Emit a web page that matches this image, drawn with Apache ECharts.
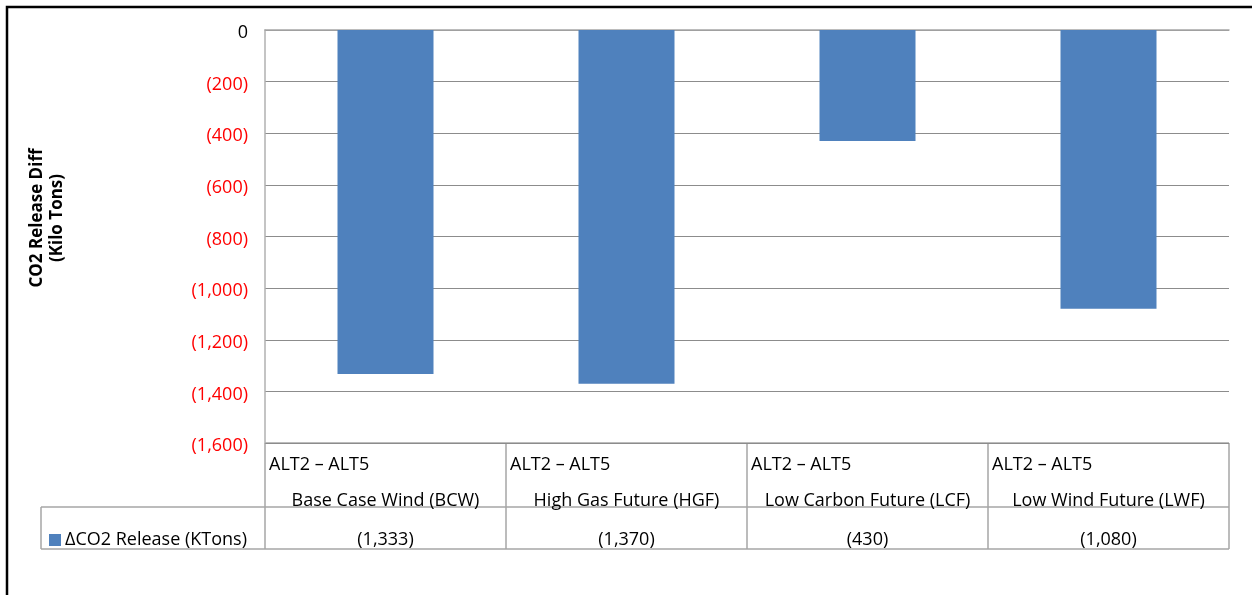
<!DOCTYPE html>
<html>
<head>
<meta charset="utf-8">
<script src="https://cdn.jsdelivr.net/npm/echarts@6/dist/echarts.min.js"></script>
<style>
  html, body { margin: 0; padding: 0; background: #fff; }
  #chart { width: 1252px; height: 595px; }
</style>
</head>
<body>
<div id="chart"></div>
<script>
// data
const categories = ["Base Case Wind (BCW)", "High Gas Future (HGF)", "Low Carbon Future (LCF)", "Low Wind Future (LWF)"];
const comparison = "ALT2 \u2013 ALT5";
const co2Diff = [-1333, -1370, -430, -1080];
const seriesName = "\u0394CO2 Release (KTons)";
const axisTitle = ["CO2 Release Diff", "(Kilo Tons)"];

const FONT = "'Open Sans', sans-serif";
const FS = 18;
const GRID = { left: 265, top: 30, width: 964, height: 413 };
const ROW1 = 64, ROW2 = 42, LEGEND_LEFT = 41;
const tableColor = "#a6a6a6";

// 1234 -> "(1,234)"
function fmt(v) {
  if (v === 0) return "0";
  const s = Math.abs(v).toLocaleString("en-US");
  return v < 0 ? "(" + s + ")" : s;
}

const chart = echarts.init(document.getElementById("chart"));

// table lines (data table below the plot)
const x0 = GRID.left, x1 = GRID.left + GRID.width;
const yTop = GRID.top + GRID.height, yMid = yTop + ROW1, yBot = yMid + ROW2;
const cellW = GRID.width / categories.length;
const lines = [];
const addLine = (ax, ay, bx, by) => lines.push({
  type: "line", shape: { x1: ax, y1: ay, x2: bx, y2: by },
  style: { stroke: tableColor, lineWidth: 1.5 }, silent: true
});
addLine(x0, yTop, x1, yTop);
addLine(LEGEND_LEFT, yMid, x1, yMid);
addLine(LEGEND_LEFT, yBot, x1, yBot);
addLine(LEGEND_LEFT, yMid, LEGEND_LEFT, yBot);
for (let i = 0; i <= categories.length; i++) {
  addLine(x0 + i * cellW, yTop, x0 + i * cellW, yBot);
}

const option = {
  backgroundColor: "#fff",
  animation: false,
  textStyle: { fontFamily: FONT },
  grid: { left: GRID.left, top: GRID.top, width: GRID.width, height: GRID.height },
  legend: {
    data: [seriesName],
    left: 44, top: yMid + 19,
    icon: "rect", itemWidth: 12, itemHeight: 12, itemGap: 4,
    textStyle: { fontFamily: FONT, fontSize: FS, color: "#000", padding: [0, 0, 0, -1] }
  },
  xAxis: [
    {
      type: "category",
      data: categories,
      position: "bottom",
      axisLine: { show: true, lineStyle: { color: tableColor, width: 1.5 } },
      axisTick: { show: false },
      axisLabel: {
        interval: 0,
        margin: 4,
        verticalAlign: "top",
        formatter: (v) => "{a|" + comparison + "}\n{b|" + v + "}",
        rich: {
          a: { width: cellW - 8, align: "left", fontSize: FS, lineHeight: 36, fontFamily: FONT, color: "#000" },
          b: { width: cellW - 8, align: "center", fontSize: FS, lineHeight: 36, fontFamily: FONT, color: "#000" }
        }
      }
    },
    {
      type: "category",
      data: co2Diff.map(fmt),
      position: "bottom",
      offset: ROW1 + ROW2 / 2 + 12,
      axisLine: { show: false },
      axisTick: { show: false },
      axisLabel: { interval: 0, margin: 0, verticalAlign: "middle", fontSize: FS, color: "#000", fontFamily: FONT }
    }
  ],
  yAxis: {
    type: "value",
    min: -1600,
    max: 0,
    interval: 200,
    axisLine: { show: true, lineStyle: { color: "#b0b0b0", width: 1.5 } },
    axisTick: { show: false },
    splitLine: { lineStyle: { color: "#8c8c8c", width: 1 } },
    axisLabel: {
      margin: 17,
      fontSize: FS,
      fontFamily: FONT,
      lineHeight: 26,
      verticalAlign: "top",
      padding: [-10, 0, 0, 0],
      formatter: fmt,
      color: (v) => (Number(v) < 0 ? "#ff0000" : "#000")
    }
  },
  series: [
    {
      name: seriesName,
      type: "bar",
      data: co2Diff,
      barWidth: 96,
      itemStyle: { color: "#4f81bd" }
    }
  ],
  graphic: [
    {
      type: "rect",
      shape: { x: 7, y: 7, width: 1400, height: 800 },
      style: { fill: "none", stroke: "#000", lineWidth: 2.5 },
      silent: true
    },
    {
      type: "text",
      x: 47, y: 218,
      rotation: Math.PI / 2,
      style: {
        text: axisTitle.join("\n"),
        font: "bold 17px " + FONT,
        lineHeight: 20,
        fill: "#000",
        align: "center",
        verticalAlign: "middle"
      },
      silent: true
    }
  ].concat(lines)
};

chart.setOption(option);
</script>
</body>
</html>
